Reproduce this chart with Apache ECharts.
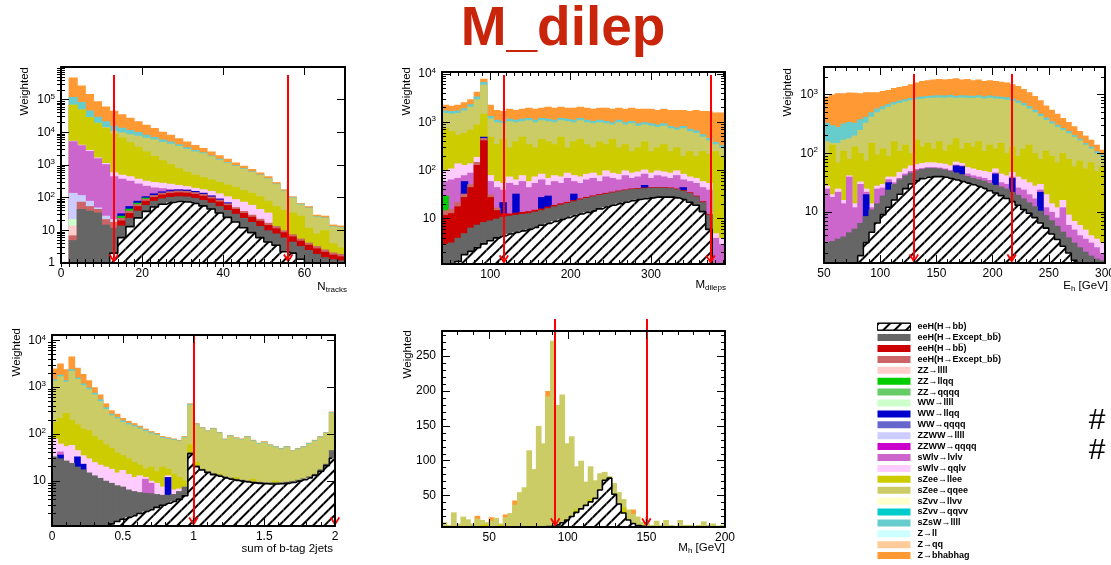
<!DOCTYPE html>
<html>
<head>
<meta charset="utf-8">
<title>M_dilep</title>
<script src="https://cdn.jsdelivr.net/npm/echarts@6/dist/echarts.min.js"></script>
<style>
html, body { margin: 0; padding: 0; background: #fff; }
#main { width: 1111px; height: 565px; }
</style>
</head>
<body>
<div id="main"></div>
<script>
var FONT = "'Liberation Sans', Arial, Helvetica, sans-serif";

// ---------- N_tracks : bins [lo, hi, width] ----------
var ntrk_bins = [0, 70, 2];
var ntrk_yrange = [1, 1e6];
var ntrk_xlabels = [0, 20, 40, 60];
var ntrk_ydecades = [0, 1, 2, 3, 4, 5];
var ntrk_cuts = [13, 56];
// cumulative stack levels (top edge of each component)
var ntrk_sig = [null, 0.5, 0.5, 0.5, 0.5, 0.5, 2, 6, 13, 24, 38, 52, 63, 71, 76, 74, 66, 56, 45, 34, 25, 18, 12, 8.5, 6, 4.4, 3.5, 2.2, 2, 1.3, 0.5, 0.5, 0.5, 0.5, 0.5];
var ntrk_hbbOther = [null, 5, 45, 40, 35, 15, 12, 14, 24, 40, 60, 80, 95, 105, 110, 108, 98, 85, 70, 55, 42, 32, 24, 18, 13.5, 10, 8, 6, 4.5, 3.3, 2.5, 1.9, 1.5, 1.3, 1.2];
var ntrk_hbbBar = [null, null, null, null, null, null, null, 20, 34, 55, 80, 105, 125, 138, 145, 142, 130, 114, 95, 76, 59, 45, 34, 26, 19.5, 14.5, 11.5, 8.7, 6.5, 4.8, 3.6, 2.8, 2.2, 1.8, 1.6];
var ntrk_otherBar = [null, 7, 75, 55, 45, 22, 18, 24, 40, 63, 92, 120, 142, 157, 165, 162, 148, 130, 108, 87, 67, 51, 39, 30, 22.5, 17, 13.5, 10, 7.6, 5.6, 4.2, 3.3, 2.6, 2.1, 1.9];
var ntrk_zzllll = [null, 14];
var ntrk_zzllqq = [null, null, null, null, null, null, null, 28, 46, 70, 100];
var ntrk_wwllll = [null, 22];
var ntrk_wwllqq = [null, null, null, null, null, null, null, 33, 55, 80, 110, 135, 155, 170, 178, 175, 160, 140, 116, 93, 72];
var ntrk_zzwwllll = [null, 140, 120, 80, 50, 28, 22];
var ntrk_lvlv = [null, 5300, 4000, 2700, 1600, 1050, 450, 380, 330, 270, 230, 205, 195, 185, 180, 176, 160, 142, 118, 95];
var ntrk_qqlv = [null, 5500, 4200, 2900, 1700, 1150, 600, 500, 450, 380, 330, 300, 285, 265, 245, 225, 200, 180, 160, 135, 110, 90, 75, 60, 45, 35];
var ntrk_llee = [null, 7e4, 5e4, 2.9e4, 1.9e4, 1.35e4, 9000, 7000, 5000, 3600, 2600, 1900, 1400, 1050, 800, 620, 500, 420, 360, 300, 250, 210, 170, 140, 110, 80, 55, 42, 35, 28, 12, 8, 10, 4, 3];
var ntrk_qqee = [null, 7e4, 5e4, 2.9e4, 1.95e4, 1.45e4, 1.1e4, 9800, 8700, 7900, 6800, 6000, 5100, 4500, 3800, 3100, 2600, 2270, 1840, 1460, 1170, 930, 760, 615, 495, 385, 260, 158, 100, 62, 48, 26, 24, 13, 12];
var ntrk_sw = [null, 1.2e5, 8.5e4, 4.7e4, 3e4, 2.2e4, 1.6e4, 1.37e4, 1.17e4, 1.03e4, 8500, 7200, 6000, 5200, 4300, 3500, 2900, 2450, 1970, 1550, 1230, 975, 790, 640, 515, 400, 270, 165, 104, 65, 50, 27, 25, 13.5, 12.5];
var ntrk_bhabha = [null, 4.8e5, 2.7e5, 1.5e5, 9e4, 6.2e4, 4.6e4, 3.6e4, 2.8e4, 2.2e4, 1.7e4, 1.35e4, 1.05e4, 8400, 6600, 5200, 4100, 3300, 2600, 2000, 1550, 1200, 950, 750, 590, 450, 300, 180, 110, 68, 55, 30, 28, 15, 14];

// ---------- M_dileps ----------
var mll_bins = [40, 392, 8];
var mll_yrange = [1.15, 1.1e4];
var mll_xlabels = [100, 200, 300];
var mll_ydecades = [1, 2, 3, 4];
var mll_cuts = [117, 374];
var mll_sig = [0.5, 0.5, 1.3, 1.8, 2.1, 2.5, 3.0, 3.5, 4.0, 4.4, 4.8, 5.2, 5.6, 6.0, 6.6, 7.3, 8.0, 8.8, 9.6, 10.5, 11.5, 12.5, 13.5, 14.5, 16, 17.5, 19, 20.5, 22, 23.5, 25, 26, 27, 28, 28, 28, 27, 25, 22, 19, 14, 6, 0.5, 0.5];
var mll_hbbOther = [3.0, 3.2, 4.0, 5.0, 6.5, 7.5, 8.5, 9.2, 10, 11, 11.5, 12, 12.5, 13, 14, 15, 16.5, 18, 19.5, 21, 23, 25, 27, 29, 31, 33, 35, 37, 39, 41, 42, 43, 44, 44, 44, 43, 41, 38, 34, 29, 22, 12, 0.5, 0.5];
var mll_hbbBar = [12, 13, 18, 28, 45, 130, 420, 28, 15, 13, 12.8, 13.3, 13.8, 14.3, 15.3, 16.3, 17.8, 19.3, 20.8, 22.3, 24.3, 26.3, 28.3, 30.3, 32.3, 34.3, 36.3, 38.3, 40.3, 42.3, 43.3, 44.3, 45.3, 45.3, 45.3, 44.3, 42.3, 39.3, 35.3, 30, 23, 12.5];
var mll_otherBar = [15, 16, 22, 33, 52, 150, 470, 32, 17];
var mll_zzllqq = [30];
var mll_wwllqq = [null, null, null, 60, null, null, 500, null, null, 22,
  null, 33, null, null, null, 28, 30, null, null, null,
  33, null, null, null, null, null, null, null, null, null,
  null, 50, null, null, null, null, null, 45];
var mll_lvlv = [60, 65, 70, 80, 90, 150, null, 60, 45, 40, 55, 50, 60, 45, 55, 65, 50, 60, 55, 70, 60, 55, 65, 70, 60, 75, 70, 65, 80, 70, 75, 85, 70, 80, 75, 70, 80, 65, 60, 55, 45, 40, 4, 3];
var mll_qqlv = [100, 110, 140, 130, 140, 190, null, 80, 60, 55, 75, 65, 80, 60, 75, 85, 70, 80, 75, 90, 80, 75, 85, 90, 80, 100, 90, 85, 100, 90, 95, 105, 90, 100, 95, 90, 100, 85, 75, 70, 60, 55, 5, 4];
var mll_llee = [750, 650, 550, 600, 700, 900, 1500, 500, 350, 450, 300, 400, 500, 350, 300, 450, 400, 350, 500, 300, 400, 450, 350, 300, 400, 350, 450, 300, 350, 250, 300, 400, 250, 300, 350, 250, 300, 200, 250, 200, 250, 220, 250, 200];
var mll_qqee = [1550, 1500, 1550, 1750, 2100, 3000, 6000, 1200, 1000, 950, 1050, 1000, 1050, 1100, 1000, 1100, 1050, 1000, 1100, 1050, 1000, 1100, 1000, 950, 1000, 950, 900, 1000, 900, 950, 850, 900, 850, 800, 850, 750, 700, 750, 650, 600, 500, 420, 350, 300];
var mll_sw = [1750, 1700, 1750, 1950, 2350, 3400, 6800, 1350, 1120, 1060, 1180, 1120, 1180, 1230, 1120, 1230, 1180, 1120, 1230, 1180, 1120, 1230, 1120, 1060, 1120, 1060, 1000, 1120, 1000, 1060, 950, 1000, 950, 900, 950, 840, 780, 840, 730, 670, 560, 470, 390, 335];
var mll_bhabha = [2300, 2200, 2300, 2600, 3000, 4300, 8000, 2300, 1800, 1700, 1900, 1800, 1900, 2000, 1900, 2000, 2100, 2000, 2100, 2000, 2000, 2100, 2000, 1900, 2000, 2000, 1900, 2000, 1900, 2000, 1900, 1900, 1900, 1800, 1900, 1800, 1800, 1800, 1700, 1800, 1700, 1700, 1600, 1600];

// ---------- E_h ----------
var eh_bins = [50, 300, 5];
var eh_yrange = [1.35, 2950];
var eh_xlabels = [50, 100, 150, 200, 250, 300];
var eh_ydecades = [1, 2, 3];
var eh_cuts = [130, 217];
var eh_sig = [0.5, 0.5, 0.5, 0.5, 0.5, 1.2, 1.8, 3.0, 4.5, 6.5, 9, 12, 16, 20, 25, 30, 34, 37, 39, 40, 40, 39, 37, 35, 33, 31, 29, 27, 25, 23, 21, 19, 17, 15, 13, 11, 9.5, 8, 6.5, 5.3, 4.2, 3.4, 2.6, 2.0, 1.5, 0.5, 0.5, 0.5, 0.5, 0.5];
var eh_hbbOther = [3.0, 3.2, 3.5, 3.8, 4.5, 5.2, 6.5, 8.5, 11, 14, 19, 24, 30, 36, 42, 47, 51, 54, 56, 56, 55, 53, 50, 47, 44, 41, 38, 36, 34, 31, 29, 27, 25, 22, 19.5, 17, 14.5, 12.5, 10.5, 8.8, 7.2, 5.8, 4.6, 3.7, 3.0, 2.5, 2.1, 1.8, 1.6, 1.5];
var eh_wwllqq = [null, null, null, null, null, null, null, 20, null, null,
  null, 32, null, null, null, null, null, null, null, null,
  null, null, null, 62, 60, null, null, null, null, null,
  45, null, null, 38, null, null, null, null, 22];
var eh_lvlv = [25, 18, 22, 14, 40, 12, 30, 22, 12, 25, 26, 36, 32, 38, 45, 50, 54, 56, 58, 58, 57, 55, 52, 64, 62, 45, 42, 40, 38, 35, 47, 32, 30, 40, 26, 24, 20, 17, 24, 12, 10, 8, 12, 6, 5, 4, 3.5, 3, 2.5, 2];
var eh_qqlv = [28, 20, 25, 16, 42, 14, 33, 25, 14, 28, 30, 40, 40, 48, 55, 62, 65, 68, 70, 70, 68, 66, 62, 72, 68, 58, 55, 52, 50, 48, 55, 45, 42, 48, 40, 36, 32, 28, 30, 20, 14, 12, 16, 9, 7, 6, 5, 4, 3.5, 3];
var eh_llee = [90, 140, 70, 110, 80, 130, 100, 75, 150, 95, 120, 90, 160, 110, 140, 100, 170, 130, 150, 120, 160, 110, 140, 180, 120, 150, 130, 160, 110, 140, 120, 150, 100, 130, 90, 120, 140, 100, 80, 110, 90, 70, 100, 80, 60, 75, 55, 70, 50, 60];
var eh_qqee = [160, 150, 150, 170, 180, 200, 250, 330, 420, 500, 560, 620, 680, 720, 760, 800, 830, 850, 870, 880, 890, 880, 900, 870, 890, 880, 870, 890, 860, 880, 860, 840, 820, 780, 720, 650, 580, 500, 430, 370, 320, 280, 250, 220, 190, 165, 140, 120, 100, 88];
var eh_sw = [330, 300, 280, 320, 340, 330, 380, 420, 500, 580, 630, 690, 750, 790, 830, 870, 900, 930, 950, 960, 970, 960, 980, 950, 970, 960, 950, 970, 940, 960, 940, 920, 900, 860, 790, 720, 640, 550, 470, 405, 350, 305, 270, 240, 205, 178, 150, 130, 108, 95];
var eh_bhabha = [930, 1000, 1050, 1050, 1080, 1070, 1050, 1100, 1100, 1100, 1150, 1200, 1300, 1350, 1400, 1500, 1600, 1700, 1750, 1800, 1850, 1800, 1850, 1900, 1800, 1850, 1750, 1800, 1700, 1750, 1700, 1650, 1600, 1500, 1400, 1250, 1100, 950, 800, 650, 550, 470, 400, 340, 290, 240, 200, 170, 140, 115];

// ---------- sum of b-tag 2jets ----------
var bt_bins = [0, 2, 0.04];
var bt_yrange = [1.08, 1.3e4];
var bt_xlabels = [0, 0.5, 1, 1.5, 2];
var bt_ydecades = [1, 2, 3, 4];
var bt_cuts = [1, 2];
var bt_sig = [0.5, 0.5, 0.5, 0.5, 0.5, 0.5, 0.5, 0.5, 0.5, 0.5, 1.2, 1.35, 1.5, 1.65, 1.8, 2.0, 2.2, 2.4, 2.7, 3.0, 3.3, 3.6, 4.0, 4.8, 38, 20, 17, 15, 13.5, 12.5, 11.5, 10.8, 10.2, 9.8, 9.4, 9.0, 8.8, 8.6, 8.5, 8.5, 8.6, 8.8, 9.2, 9.8, 10.5, 11.5, 13, 16, 21, 30];
var bt_hbbOther = [33, 30, 27, 24, 20, 17.5, 15, 13, 11.5, 10, 9, 8, 7.5, 6.5, 6, 5.7, 5.5, 5.4, 5.2, 5, 5, 5.2, 6, 7.5, 40, 21, 18, 16, 14.5, 13.5, 12.4, 11.6, 11, 10.5, 10.1, 9.7, 9.5, 9.3, 9.2, 9.2, 9.3, 9.5, 9.9, 10.5, 11.3, 12.4, 14, 17.5, 23, 45];
var bt_wwllqq = [null, 36, null, null, 33, 23, null, null, null, null, null, null, null, null, null, null, null, null, null, null, 12];
var bt_lvlv = [null, 42, null, null, null, null, null, null, null, null, null, null, null, null, null, null, 11, 9];
var bt_qqlv = [80, 62, 55, 58, 45, 35, 30, 25, 22, 20, 18, 15, 17, 14, 12, 13, 12, 10, 9, 7.5, 13, 6.5, 6.8, 7.5];
var bt_llee = [180, 220, 280, 200, 160, 130, 120, 90, 75, 60, 50, 40, 35, 30, 25, 22, 18, 20, 16, 20, 18, 14, 12, 10, 60, 25, 14, 13, 12, 14, 11, 10.5, 12, 10, 9.5, 11, 9, 9, 9, 10, 9, 9, 9.5, 10, 10.5, 11.5, 12.5, 14, 17, 32];
var bt_qqee = [1350, 1700, 1300, 2200, 1500, 1100, 900, 700, 500, 340, 250, 215, 180, 160, 145, 130, 115, 102, 95, 82, 78, 74, 70, 84, 420, 160, 133, 114, 128, 105, 76, 90, 81, 76, 85, 71, 62, 66, 57, 52, 47, 52, 43, 47, 52, 62, 71, 85, 105, 285];
var bt_sw = [1450, 1850, 1400, 2400, 1600, 1200, 980, 760, 550, 370, 270, 230, 195, 172, 155, 138, 122, 108, 99, 86, 81, 77, 72, 87, 440, 165, 137, 117, 132, 108, 78, 93, 83, 78, 88, 73, 64, 68, 59, 54, 49, 54, 44, 49, 54, 64, 73, 88, 108, 295];
var bt_bhabha = [2500, 3200, 2400, 4500, 2600, 1900, 1400, 1000, 700, 450, 320, 270, 220, 190, 170, 150, 130, 115, 105, 90, 85, 80, 75, 90, 450, 170, 140, 120, 135, 110, 80, 95, 85, 80, 90, 75, 65, 70, 60, 55, 50, 55, 45, 50, 55, 65, 75, 90, 110, 300];

// ---------- M_h (linear) ----------
var mh_bins = [20, 200, 3];
var mh_yrange = [5, 286];
var mh_xlabels = [50, 100, 150, 200];
var mh_ylabels = [50, 100, 150, 200, 250];
var mh_cuts = [92, 150];
var mh_sig = [0, 0, 0, 0, 0, 0, 0, 0, 0, 0, 0, 0, 0, 0, 0, 0, 0, 0, 0, 0, 0, 0, 5.5, 6, 8, 11, 15, 20, 26, 31, 36, 41, 46, 58, 72, 75, 52, 38, 25, 15, 10, 7, 6, 0, 0, 0, 0, 0, 0, 0, 0, 0, 0, 0, 0, 0, 0, 0, 0, 0];
var mh_llee = [null, null, null, null, null, null, null, null, 8, 9, null, null, 8, null, null, null, null, null, null, null, null, null, null, null, null, null, null, null, 30, null, null, 45, null, null, null, null, null, null, 33];
var mh_qqee = [12, 8, 26, 10, 20, 16, 10, 17, 15, 12, 14, 18, 10, 19, 25, 37, 55, 62, 115, 88, 150, 125, 192, 272, 180, 195, 125, 135, 92, 100, 70, 92, 72, 82, 84, 78, 68, 55, 45, 30, 24, 20, 12, 10, 8, 14, 8, 15, 8, 7, 15, 8, 8, 7, 8, 13, 8, 10, 7, 8];
var mh_bhabha = [null, null, null, null, null, null, null, 21, null, null, 19, null, null, 23, null, 43, null, null, null, null, null, null, 200, null, null, null, null, null, null, null, null, null, null, null, null, null, null, null, null, null, 30];

// ---------- components (bottom of stack first) ----------
var LAYERS = [
  ['eeH(H\u2192bb)', '#ffffff'],
  ['eeH(H\u2192Except_bb\u0305)', '#666666'],
  ['eeH(H\u2192bb\u0305)', '#cc0000'],
  ['eeH(H\u2192Except_bb\u0305)\u200b', '#cc6666'],
  ['ZZ\u2192llll', '#ffcccc'],
  ['ZZ\u2192llqq', '#00cc00'],
  ['ZZ\u2192qqqq', '#66cc66'],
  ['WW\u2192llll', '#ccffcc'],
  ['WW\u2192llqq', '#0000cc'],
  ['WW\u2192qqqq', '#6666cc'],
  ['ZZWW\u2192llll', '#ccccff'],
  ['ZZWW\u2192qqqq', '#cc00cc'],
  ['sWlv\u2192lvlv', '#cc66cc'],
  ['sWlv\u2192qqlv', '#ffccff'],
  ['sZee\u2192llee', '#cccc00'],
  ['sZee\u2192qqee', '#cccc66'],
  ['sZvv\u2192llvv', '#ffffcc'],
  ['sZvv\u2192qqvv', '#00cccc'],
  ['sZsW\u2192llll', '#66cccc'],
  ['Z\u2192ll', '#ccffff'],
  ['Z\u2192qq', '#ffcc99'],
  ['Z\u2192bhabhag', '#ff9933']
];

var panels = [
  {bins: ntrk_bins, yr: ntrk_yrange, log: true, xLabels: ntrk_xlabels, xMinor: 2, yMajor: ntrk_ydecades, cuts: ntrk_cuts,
   layers: {0: ntrk_sig, 1: ntrk_hbbOther, 2: ntrk_hbbBar, 3: ntrk_otherBar, 4: ntrk_zzllll, 5: ntrk_zzllqq, 7: ntrk_wwllll, 8: ntrk_wwllqq,
            10: ntrk_zzwwllll, 12: ntrk_lvlv, 13: ntrk_qqlv, 14: ntrk_llee, 15: ntrk_qqee, 18: ntrk_sw, 21: ntrk_bhabha}},
  {bins: mll_bins, yr: mll_yrange, log: true, xLabels: mll_xlabels, xMinor: 10, yMajor: mll_ydecades, cuts: mll_cuts,
   layers: {0: mll_sig, 1: mll_hbbOther, 2: mll_hbbBar, 3: mll_otherBar, 5: mll_zzllqq, 8: mll_wwllqq, 12: mll_lvlv, 13: mll_qqlv,
            14: mll_llee, 15: mll_qqee, 18: mll_sw, 21: mll_bhabha}},
  {bins: eh_bins, yr: eh_yrange, log: true, xLabels: eh_xlabels, xMinor: 10, yMajor: eh_ydecades, cuts: eh_cuts,
   layers: {0: eh_sig, 1: eh_hbbOther, 8: eh_wwllqq, 12: eh_lvlv, 13: eh_qqlv, 14: eh_llee, 15: eh_qqee, 18: eh_sw, 21: eh_bhabha}},
  {bins: bt_bins, yr: bt_yrange, log: true, xLabels: bt_xlabels, xMinor: 0.1, yMajor: bt_ydecades, cuts: bt_cuts,
   layers: {0: bt_sig, 1: bt_hbbOther, 8: bt_wwllqq, 12: bt_lvlv, 13: bt_qqlv, 14: bt_llee, 15: bt_qqee, 18: bt_sw, 21: bt_bhabha}},
  {bins: mh_bins, yr: mh_yrange, log: false, xLabels: mh_xlabels, xMinor: 10, yMajor: mh_ylabels, cuts: mh_cuts,
   layers: {0: mh_sig, 14: mh_llee, 15: mh_qqee, 21: mh_bhabha}}
];

// layout: [left, top, width, height]; arrow start offset below frame top
var GRID_POS = [[61, 67, 284, 196], [442, 72, 283, 192], [824, 67, 281, 196], [52, 335, 283, 191], [442, 331, 283, 196]];
var ARROW_TOP = [8, 3, 7, 0, -12];
var HATCH = {symbol: 'rect', symbolSize: 1, dashArrayX: [1, 0], dashArrayY: [1.2, 5.6], rotation: -Math.PI / 4, color: '#000'};
var ARROW = 'path://M5,0 L10,8 L8.6,9.2 L5,3.2 L1.4,9.2 L0,8 Z M4.3,1 L5.7,1 L5.7,10 L4.3,10 Z';

function logLabel(v) {
  var e = Math.round(v);
  if (e === 0) return '1';
  if (e === 1) return '10';
  return '{b|10}{s|' + e + '}';
}

var grids = [], xAxes = [], yAxes = [], series = [], used = {};
var NP = panels.length;

panels.forEach(function (p, gi) {
  var g = GRID_POS[gi];
  grids.push({left: g[0], top: g[1], width: g[2], height: g[3], show: false, containLabel: false, outerBoundsMode: 'none'});

  var n = Math.round((p.bins[1] - p.bins[0]) / p.bins[2]);
  var cats = [];
  for (var i = 0; i < n; i++) cats.push(+(p.bins[0] + i * p.bins[2]).toFixed(3));
  // one pixel wider than a bin so neighbouring bars overlap and leave no seam
  var barW = g[2] / n + 1;

  ['bottom', 'top'].forEach(function (pos) {
    xAxes.push({
      type: 'value', gridIndex: gi, position: pos, min: p.bins[0], max: p.bins[1], z: 5,
      axisLine: {show: true, onZero: false, lineStyle: {color: '#000', width: 2}},
      axisTick: {show: true, inside: true, length: 8, customValues: p.xLabels, lineStyle: {color: '#000'}},
      axisLabel: pos === 'bottom'
        ? {show: true, customValues: p.xLabels, color: '#000', fontSize: 12, fontFamily: FONT, margin: 5}
        : {show: false},
      splitLine: {show: false}
    });
    xAxes.push({
      type: 'value', gridIndex: gi, position: pos, min: p.bins[0], max: p.bins[1], interval: p.xMinor, z: 5,
      axisLine: {show: false},
      axisTick: {show: true, inside: true, length: 4, lineStyle: {color: '#000'}},
      axisLabel: {show: false}, splitLine: {show: false}
    });
  });
  xAxes.push({type: 'category', gridIndex: gi, data: cats, show: false, boundaryGap: true});

  yAxes.push({type: p.log ? 'log' : 'value', gridIndex: gi, min: p.yr[0], max: p.yr[1], show: false});
  var tmin = p.log ? Math.log10(p.yr[0]) : p.yr[0];
  var tmax = p.log ? Math.log10(p.yr[1]) : p.yr[1];
  var minors = [];
  if (p.log) {
    for (var d = Math.floor(tmin); d <= Math.ceil(tmax); d++) {
      for (var k = 2; k <= 9; k++) {
        var t = d + Math.log10(k);
        if (t > tmin && t < tmax) minors.push(t);
      }
    }
  } else {
    for (var v = 10; v < tmax; v += 10) if (v > tmin && v % 50 !== 0) minors.push(v);
  }
  ['left', 'right'].forEach(function (pos) {
    yAxes.push({
      type: 'value', gridIndex: gi, position: pos, min: tmin, max: tmax, z: 5,
      axisLine: {show: true, onZero: false, lineStyle: {color: '#000', width: 2}},
      axisTick: {show: true, inside: true, length: 8, customValues: p.yMajor, lineStyle: {color: '#000'}},
      axisLabel: pos === 'left' ? {
        show: true, customValues: p.yMajor, color: '#000', fontSize: 12, fontFamily: FONT, margin: 6,
        formatter: p.log ? logLabel : null,
        rich: {
          b: {fontSize: 12, fontFamily: FONT, color: '#000', lineHeight: 14},
          s: {fontSize: 8, fontFamily: FONT, color: '#000', lineHeight: 8, verticalAlign: 'top'}
        }
      } : {show: false},
      splitLine: {show: false}
    });
    yAxes.push({
      type: 'value', gridIndex: gi, position: pos, min: tmin, max: tmax, z: 5,
      axisLine: {show: false},
      axisTick: {show: true, inside: true, length: 4, customValues: minors, lineStyle: {color: '#000'}},
      axisLabel: {show: false}, splitLine: {show: false}
    });
  });

  var bx = gi * 5, by = gi * 5;
  // top of stack first, so lower components are painted over it
  Object.keys(p.layers).map(Number).sort(function (a, b) { return b - a; }).forEach(function (li) {
    var L = LAYERS[li];
    used[li] = true;
    series.push({
      type: 'bar', name: L[0], xAxisIndex: bx + 4, yAxisIndex: by, data: p.layers[li],
      barGap: '-100%', barWidth: barW, silent: true,
      itemStyle: li === 0 ? {color: '#ffffff', decal: HATCH} : {color: L[1]}
    });
  });
  // black outline of the signal histogram
  series.push({
    type: 'line', xAxisIndex: bx + 4, yAxisIndex: by, data: p.layers[0], step: 'middle',
    symbol: 'none', silent: true, lineStyle: {color: '#000', width: 1.6}
  });
});

// cut arrows: an overlay grid per panel that spans from the arrow start to the frame bottom
panels.forEach(function (p, gi) {
  var g = GRID_POS[gi];
  var top = g[1] + ARROW_TOP[gi], h = g[1] + g[3] - top;
  var ag = NP + gi;
  grids.push({left: g[0], top: top, width: g[2], height: h, show: false, containLabel: false, outerBoundsMode: 'none'});
  xAxes.push({type: 'value', gridIndex: ag, min: p.bins[0], max: p.bins[1], show: false});
  yAxes.push({type: 'value', gridIndex: ag, min: 0, max: 1, show: false});
  series.push({
    type: 'line', xAxisIndex: xAxes.length - 1, yAxisIndex: yAxes.length - 1, data: [], silent: true,
    markLine: {
      silent: true, symbol: ['none', ARROW], symbolSize: [10, 10], label: {show: false},
      lineStyle: {color: '#ff0000', width: 2, type: 'solid'}, emphasis: {disabled: true},
      data: p.cuts.map(function (c) { return [{coord: [c, 1]}, {coord: [c, 5 / h]}]; })
    }
  });
});

// legend entries for components not drawn in any panel
LAYERS.forEach(function (L, li) {
  if (!used[li]) series.push({type: 'bar', name: L[0], xAxisIndex: 4, yAxisIndex: 0, data: [],
    barGap: '-100%', barWidth: GRID_POS[0][2] / 35 + 1, itemStyle: {color: L[1]}});
});

var legendData = LAYERS.map(function (L, li) {
  return li === 0 ? {name: L[0], itemStyle: {borderColor: '#000', borderWidth: 1}} : {name: L[0]};
});

function yTitle(x, y) {
  return {type: 'text', x: x, y: y, rotation: Math.PI / 2, silent: true,
    style: {text: 'Weighted', fill: '#000', fontSize: 11.5, fontFamily: FONT, align: 'right', verticalAlign: 'middle'}};
}
function xTitle(x, y, main, sub, tail) {
  return {type: 'text', x: x, y: y, silent: true,
    style: {
      text: '{m|' + main + '}' + (sub ? '{s|' + sub + '}' : '') + (tail ? '{m|' + tail + '}' : ''),
      align: 'right', verticalAlign: 'middle',
      rich: {
        m: {fontSize: 11.5, fontFamily: FONT, fill: '#000', color: '#000', lineHeight: 14},
        s: {fontSize: 8, fontFamily: FONT, fill: '#000', color: '#000', lineHeight: 8, verticalAlign: 'bottom'}
      }
    }};
}

var graphic = [
  {type: 'text', x: 563, y: 30, silent: true,
   style: {text: 'M_dilep', fill: '#c9250b', fontSize: 55, fontWeight: 'bold', fontFamily: FONT, align: 'center', verticalAlign: 'middle'}},
  yTitle(25, 67), yTitle(407, 67), yTitle(788, 68), yTitle(17, 328), yTitle(407.5, 330),
  xTitle(347, 286.5, 'N', 'tracks', ''),
  xTitle(726, 284.5, 'M', 'dileps', ''),
  xTitle(1108, 285.5, 'E', 'h', ' [GeV]'),
  xTitle(333, 548.5, 'sum of b-tag 2jets', '', ''),
  xTitle(725, 547.5, 'M', 'h', ' [GeV]'),
  {type: 'text', x: 1097, y: 421, silent: true,
   style: {text: '#', fill: '#000', fontSize: 30, fontFamily: FONT, align: 'center', verticalAlign: 'middle'}},
  {type: 'text', x: 1097, y: 451, silent: true,
   style: {text: '#', fill: '#000', fontSize: 30, fontFamily: FONT, align: 'center', verticalAlign: 'middle'}}
];

var chart = echarts.init(document.getElementById('main'));
chart.setOption({
  animation: false,
  backgroundColor: '#ffffff',
  textStyle: {fontFamily: FONT},
  grid: grids,
  xAxis: xAxes,
  yAxis: yAxes,
  legend: {
    orient: 'vertical', left: 877, top: 322.2, padding: 0, itemWidth: 33, itemHeight: 7, itemGap: 1.9,
    icon: 'rect', selectedMode: false,
    textStyle: {fontSize: 9, fontWeight: 'bold', lineHeight: 9, color: '#000', fontFamily: FONT, padding: [0, 0, 0, 2]},
    data: legendData
  },
  series: series,
  graphic: graphic
});
</script>
</body>
</html>
